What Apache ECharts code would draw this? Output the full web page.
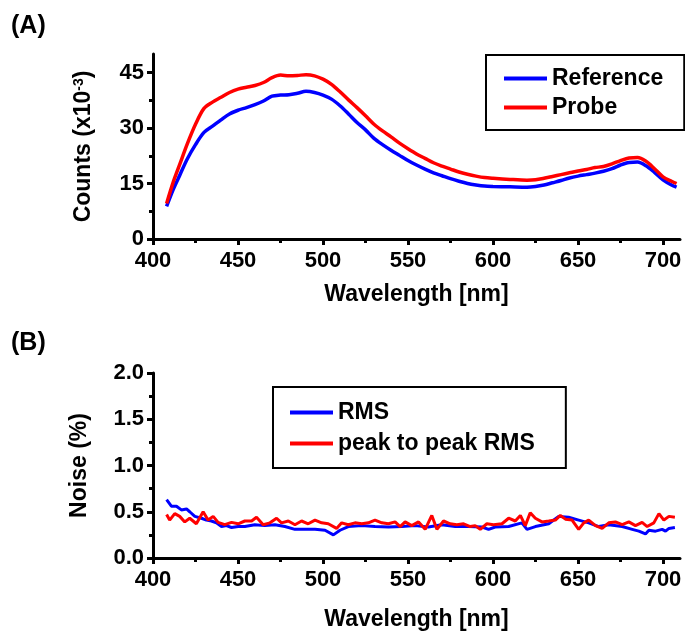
<!DOCTYPE html>
<html>
<head>
<meta charset="utf-8">
<script src="https://cdn.jsdelivr.net/npm/echarts@6/dist/echarts.min.js"></script>
<style>
  html, body { margin: 0; padding: 0; background: #fff; }
  #chart { width: 685px; height: 637px; }
</style>
</head>
<body>
<div id="chart"></div>
<script>
// Panel A: counts spectra (x10^-3)
const wlA = [408, 412, 416, 420, 425, 430, 435, 440, 445, 450, 455, 460, 465, 470, 475, 480, 485, 490, 495, 500,
  505, 510, 515, 520, 525, 530, 535, 540, 545, 550, 555, 560, 565, 570, 575, 580, 585, 590, 595, 600,
  610, 620, 625, 630, 635, 640, 645, 650, 655, 660, 665, 670, 675, 680, 685, 690, 695, 700, 705, 708];
const reference = [8.8, 13.5, 17.5, 21.5, 25.5, 28.8, 30.5, 32.2, 33.8, 34.8, 35.5, 36.3, 37.3, 38.6, 38.9, 39.0, 39.4, 39.9, 39.6, 38.9,
  37.8, 36.0, 33.8, 31.5, 29.5, 27.2, 25.5, 24.0, 22.6, 21.2, 20.0, 18.9, 17.9, 17.1, 16.3, 15.6, 15.0, 14.6, 14.3, 14.2,
  14.1, 14.0, 14.2, 14.6, 15.2, 15.8, 16.5, 17.0, 17.4, 17.8, 18.3, 19.0, 20.0, 20.7, 20.8, 19.8, 18.0, 16.0, 14.6, 14.0];
const probe = [9.6, 15.5, 20.5, 25.5, 31.0, 35.3, 37.0, 38.3, 39.6, 40.5, 41.0, 41.5, 42.3, 43.6, 44.3, 44.1, 44.2, 44.4, 44.1, 43.2,
  41.8, 39.8, 37.6, 35.5, 33.3, 31.0, 29.2, 27.6, 25.9, 24.4, 23.0, 21.8, 20.6, 19.7, 18.9, 18.1, 17.5, 17.0, 16.6, 16.4,
  16.1, 15.9, 16.0, 16.4, 16.9, 17.4, 17.9, 18.4, 18.8, 19.3, 19.6, 20.3, 21.2, 21.9, 22.0, 21.0, 19.0, 16.8, 15.6, 15.0];

// Panel B: noise (%)
const wlRms = [408, 410.8, 413.8, 416.7, 419.7, 421.6, 424.6, 428.5, 431.4, 434.4, 437.3, 440.3, 443.2, 446.2, 450.1, 454, 459.9, 465.8, 471.7, 477.6,
  483.5, 489.4, 495.3, 501.2, 506.1, 510, 514.9, 522.8, 530.6, 538.5, 546.3, 554.2, 562, 569.9, 577.8, 585.6, 593.5, 597.4, 601.3, 609.2,
  617, 620, 624.9, 632.8, 638.6, 644.5, 650.4, 656.3, 662.2, 668.1, 676, 681.9, 685.8, 689.7, 691.7, 695.6, 699.5, 701.5, 703.5, 707];
const rms = [0.63, 0.56, 0.56, 0.52, 0.53, 0.50, 0.45, 0.43, 0.41, 0.40, 0.38, 0.34, 0.35, 0.33, 0.34, 0.34, 0.36, 0.35, 0.36, 0.34,
  0.31, 0.31, 0.31, 0.30, 0.25, 0.30, 0.34, 0.35, 0.34, 0.335, 0.34, 0.35, 0.335, 0.36, 0.34, 0.34, 0.335, 0.31, 0.335, 0.34,
  0.38, 0.31, 0.34, 0.37, 0.45, 0.44, 0.41, 0.38, 0.34, 0.36, 0.34, 0.31, 0.29, 0.26, 0.30, 0.29, 0.31, 0.29, 0.32, 0.33];
const wlP2p = [408, 409.8, 412.8, 415.7, 418.7, 421.6, 425.5, 429.5, 432.4, 435.4, 438.3, 442.2, 446.2, 450.1, 454, 458, 460.9, 464.8, 468.8, 472.7,
  475.6, 479.6, 483.5, 487.4, 491.3, 495.3, 499.2, 503.1, 508, 511, 514.9, 518.8, 522.8, 526.7, 530.6, 534.6, 538.5, 542.4, 545.4, 548.3,
  552.2, 556.2, 560.1, 564, 567, 570.9, 574.8, 578.7, 582.7, 586.6, 589.5, 592.5, 596.4, 600.3, 605.3, 609.2, 613.1, 616.1, 619, 621.9,
  624.9, 628.8, 632.8, 636.7, 639.6, 642.6, 646.5, 650.4, 653.4, 656.3, 660.3, 664.2, 668.1, 672, 676, 679.9, 683.8, 687.7, 690.7, 694.6,
  697.6, 700.5, 703.5, 707];
const p2p = [0.47, 0.41, 0.48, 0.45, 0.39, 0.43, 0.37, 0.50, 0.41, 0.45, 0.385, 0.36, 0.385, 0.37, 0.40, 0.40, 0.44, 0.36, 0.38, 0.43,
  0.38, 0.40, 0.36, 0.40, 0.37, 0.41, 0.38, 0.37, 0.32, 0.38, 0.36, 0.38, 0.37, 0.38, 0.41, 0.38, 0.37, 0.39, 0.34, 0.39,
  0.35, 0.39, 0.31, 0.46, 0.31, 0.40, 0.37, 0.36, 0.37, 0.34, 0.35, 0.31, 0.37, 0.36, 0.37, 0.43, 0.40, 0.46, 0.35, 0.49,
  0.43, 0.39, 0.40, 0.41, 0.46, 0.42, 0.41, 0.31, 0.38, 0.41, 0.35, 0.32, 0.38, 0.39, 0.36, 0.39, 0.35, 0.385, 0.34, 0.38,
  0.48, 0.41, 0.45, 0.44];

// tick values
const xMajor = [400, 450, 500, 550, 600, 650, 700];
const xMinor = [425, 475, 525, 575, 625, 675];
const yMajorA = [0, 15, 30, 45];
const yMinorA = [7.5, 22.5, 37.5];
const yMajorB = [0, 0.5, 1.0, 1.5, 2.0];
const yMinorB = [0.25, 0.75, 1.25, 1.75];

const FONT = 'Liberation Sans, Arial, sans-serif';
const BLUE = '#0000ff';
const RED = '#ff0000';

const zip = (xs, ys) => xs.map((x, i) => [x, ys[i]]);

const axisLine = { show: true, onZero: false, lineStyle: { color: '#000', width: 3 } };
const labelStyle = { color: '#000', fontFamily: FONT, fontWeight: 'bold', fontSize: 22 };
const nameStyle = { color: '#000', fontFamily: FONT, fontWeight: 'bold', fontSize: 23 };
const legendText = { color: '#000', fontFamily: FONT, fontWeight: 'bold', fontSize: 23 };

function xAxes(gridIndex, nameGap) {
  return [
    {
      type: 'value', gridIndex, position: 'bottom', min: 400, max: 710,
      name: 'Wavelength [nm]', nameLocation: 'middle', nameGap, nameTextStyle: nameStyle,
      axisLine,
      axisTick: { show: true, customValues: xMajor, length: 6, lineStyle: { color: '#000', width: 3 } },
      axisLabel: { customValues: xMajor, margin: 11, ...labelStyle },
      splitLine: { show: false }
    },
    {
      // minor ticks only
      type: 'value', gridIndex, position: 'bottom', min: 400, max: 710,
      axisLine: { show: false, onZero: false },
      axisTick: { show: true, customValues: xMinor, length: 4, lineStyle: { color: '#000', width: 3 } },
      axisLabel: { show: false },
      splitLine: { show: false }
    }
  ];
}

function yAxes(gridIndex, max, major, minor, fmt, name, nameGap) {
  return [
    {
      type: 'value', gridIndex, position: 'left', min: 0, max,
      name, nameLocation: 'middle', nameGap, nameTextStyle: nameStyle,
      axisLine,
      axisTick: { show: true, customValues: major, length: 6, lineStyle: { color: '#000', width: 3 } },
      axisLabel: { customValues: major, margin: 9, formatter: fmt, ...labelStyle },
      splitLine: { show: false }
    },
    {
      // minor ticks only
      type: 'value', gridIndex, position: 'left', min: 0, max,
      axisLine: { show: false, onZero: false },
      axisTick: { show: true, customValues: minor, length: 4, lineStyle: { color: '#000', width: 3 } },
      axisLabel: { show: false },
      splitLine: { show: false }
    }
  ];
}

const chart = echarts.init(document.getElementById('chart'), null, { renderer: 'canvas' });

const option = {
  backgroundColor: '#ffffff',
  animation: false,
  textStyle: { fontFamily: FONT },
  title: [
    { text: '(A)', left: 11, top: 14, padding: 0, textStyle: { fontFamily: FONT, fontWeight: 'bold', fontSize: 25, color: '#000' } },
    { text: '(B)', left: 11, top: 331, padding: 0, textStyle: { fontFamily: FONT, fontWeight: 'bold', fontSize: 25, color: '#000' } }
  ],
  grid: [
    { left: 153, top: 54, width: 527, height: 185 },
    { left: 153, top: 373, width: 527, height: 185 }
  ],
  legend: [
    {
      data: ['Reference', 'Probe'], orient: 'vertical', left: 486, top: 55,
      icon: 'rect', itemWidth: 43, itemHeight: 4, itemGap: 6,
      padding: [12, 21, 11, 18],
      borderColor: '#000', borderWidth: 2, borderRadius: 0,
      textStyle: legendText
    },
    {
      data: ['RMS', 'peak to peak RMS'], orient: 'vertical', left: 273, top: 387,
      icon: 'rect', itemWidth: 43, itemHeight: 4, itemGap: 8,
      padding: [14, 31, 13, 17],
      borderColor: '#000', borderWidth: 2, borderRadius: 0,
      textStyle: legendText
    }
  ],
  xAxis: [...xAxes(0, 44), ...xAxes(1, 50)],
  yAxis: [
    ...yAxes(0, 50, yMajorA, yMinorA, v => String(v), 'Counts (x10{sup|-3})', 57),
    ...yAxes(1, 2, yMajorB, yMinorB, v => v.toFixed(1), 'Noise (%)', 62)
  ],
  series: [
    {
      name: 'Reference', type: 'line', xAxisIndex: 0, yAxisIndex: 0,
      data: zip(wlA, reference), smooth: 0.3, symbol: 'none',
      lineStyle: { color: BLUE, width: 3.5 }, itemStyle: { color: BLUE }, z: 3
    },
    {
      name: 'Probe', type: 'line', xAxisIndex: 0, yAxisIndex: 0,
      data: zip(wlA, probe), smooth: 0.3, symbol: 'none',
      lineStyle: { color: RED, width: 3.5 }, itemStyle: { color: RED }, z: 4
    },
    {
      name: 'RMS', type: 'line', xAxisIndex: 2, yAxisIndex: 2,
      data: zip(wlRms, rms), symbol: 'none',
      lineStyle: { color: BLUE, width: 3 }, itemStyle: { color: BLUE }, z: 3
    },
    {
      name: 'peak to peak RMS', type: 'line', xAxisIndex: 2, yAxisIndex: 2,
      data: zip(wlP2p, p2p), symbol: 'none',
      lineStyle: { color: RED, width: 3 }, itemStyle: { color: RED }, z: 4
    }
  ]
};

// superscript for the counts axis name
option.yAxis[0].nameTextStyle = {
  ...nameStyle,
  rich: { sup: { fontFamily: FONT, fontWeight: 'bold', fontSize: 14, color: '#000', verticalAlign: 'top', padding: [0, 0, 10, 0] } }
};

chart.setOption(option);
</script>
</body>
</html>
